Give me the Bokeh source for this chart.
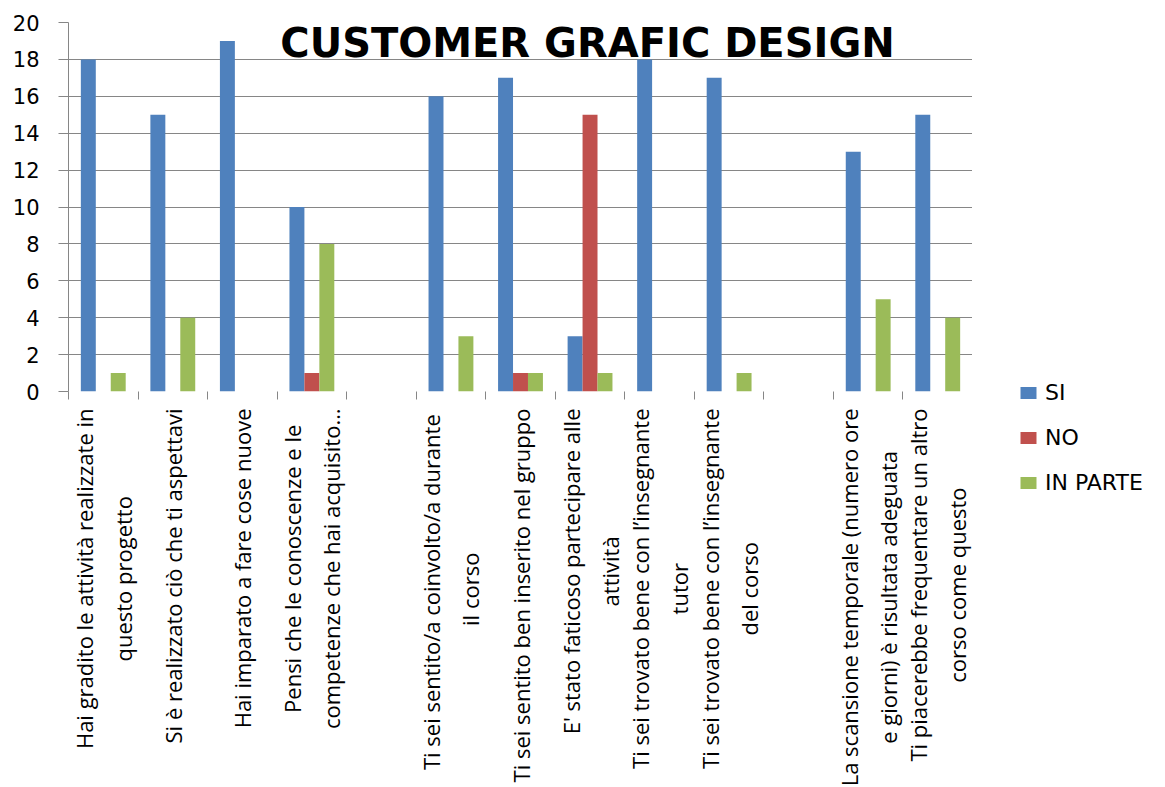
import numpy as np
from bokeh.plotting import figure
from bokeh.layouts import row, column
from bokeh.models import Range1d, FixedTicker, Label, Legend, LegendItem, ColumnDataSource
from bokeh.core.properties import value
from bokeh.embed import file_html
from bokeh.resources import INLINE

# ---- data ----
categories = [
    "Hai gradito le attività realizzate in\nquesto progetto",
    "Si è realizzato ciò che ti aspettavi",
    "Hai imparato a fare cose nuove",
    "Pensi che le conoscenze e le\ncompetenze che hai acquisito…",
    "",
    "Ti sei  sentito/a coinvolto/a durante\nil corso",
    "Ti sei sentito ben inserito nel gruppo",
    "E' stato faticoso partecipare alle\nattività",
    "Ti sei trovato bene con l’insegnante\ntutor",
    "Ti sei trovato bene con l’insegnante\ndel corso",
    "",
    "La scansione temporale (numero ore\ne giorni) è risultata adeguata",
    "Ti piacerebbe frequentare un altro\ncorso come questo",
]
si = [18, 15, 19, 10, 0, 16, 17, 3, 18, 17, 0, 13, 15]
no = [0, 0, 0, 1, 0, 0, 1, 15, 0, 0, 0, 0, 0]
in_parte = [1, 4, 0, 8, 0, 3, 1, 1, 0, 1, 0, 5, 4]
series_names = ["SI", "NO", "IN PARTE"]
series_colors = ["#4F81BD", "#C0504D", "#9BBB59"]
y_ticks = list(range(0, 21, 2))
title_text = "CUSTOMER GRAFIC DESIGN"

n = len(categories)
centers = [i + 0.5 for i in range(n)]
bounds = list(range(n + 1))
bar_w = 0.215
offsets = [-bar_w, 0.0, bar_w]
grid_col = "#868686"

W_MAIN, H_MAIN = 972, 404
W_LEG, H_TOT = 188, 787
H_LAB = H_TOT - H_MAIN

# ---- main chart ----
p = figure(width=W_MAIN, height=H_MAIN, x_range=Range1d(0, n), y_range=Range1d(0, 20),
           output_backend="svg", toolbar_location=None,
           min_border_left=68, min_border_right=0, min_border_top=22, min_border_bottom=13)
p.outline_line_color = None
p.xgrid.visible = False
p.ygrid.ticker = FixedTicker(ticks=[t for t in y_ticks if t > 0])
p.ygrid.grid_line_color = grid_col

ya = p.yaxis[0]
ya.ticker = FixedTicker(ticks=y_ticks)
ya.major_tick_out = 10
ya.major_tick_in = 0
ya.minor_tick_out = 0
ya.minor_tick_in = 0
ya.major_tick_line_color = grid_col
ya.axis_line_color = grid_col
ya.major_label_text_font = "DejaVu Sans"
ya.major_label_text_font_size = "21px"
ya.major_label_text_color = "black"
ya.major_label_standoff = 19

xa = p.xaxis[0]
xa.ticker = FixedTicker(ticks=centers, minor_ticks=bounds)
xa.major_label_overrides = {c: "" for c in centers}
xa.major_label_text_font_size = "0px"
xa.major_label_standoff = 0
xa.major_tick_out = 0
xa.major_tick_in = 0
xa.minor_tick_out = 8
xa.minor_tick_in = 0
xa.minor_tick_line_color = grid_col
xa.axis_line_color = None

renderers = []
for vals, off, col in zip([si, no, in_parte], offsets, series_colors):
    src = ColumnDataSource(dict(x=[c + off for c in centers], top=vals))
    r = p.vbar(x="x", top="top", width=bar_w, source=src, fill_color=col, line_color=None)
    renderers.append(r)

title = Label(x=519, y=348.5, x_units="screen", y_units="screen", text=title_text,
              text_font="DejaVu Sans", text_font_style="bold", text_font_size="40px",
              text_align="center", text_baseline="middle", text_color="black")
p.add_layout(title)

# ---- category labels (below the axis) ----
lab = figure(width=W_MAIN, height=H_LAB, x_range=p.x_range, y_range=Range1d(0, H_LAB),
             output_backend="svg", toolbar_location=None,
             x_axis_location=None, y_axis_location=None,
             min_border_left=68, min_border_right=0, min_border_top=0, min_border_bottom=0)
lab.outline_line_color = None
lab.xgrid.grid_line_color = None
lab.ygrid.grid_line_color = None
lab_src = ColumnDataSource(dict(x=centers, text=categories))
lab.text(x="x", y=H_LAB - 4, text="text", source=lab_src, angle=np.pi / 2,
         anchor="center_right", text_align="center", text_baseline="middle",
         text_font=value("Open Sans"), text_font_size="22px", text_color="black",
         text_line_height=1.3)

# ---- legend panel ----
leg = figure(width=W_LEG, height=H_TOT, x_range=Range1d(0, 1), y_range=Range1d(0, 1),
             output_backend="svg", toolbar_location=None,
             x_axis_location=None, y_axis_location=None,
             min_border_left=0, min_border_right=0, min_border_top=0, min_border_bottom=0)
leg.outline_line_color = None
leg.xgrid.grid_line_color = None
leg.ygrid.grid_line_color = None
leg.background_fill_color = "white"
leg.border_fill_color = "white"
leg_renderers = [leg.vbar(x=[5], top=[1], width=0.1, fill_color=c, line_color=None)
                 for c in series_colors]
legend = Legend(items=[LegendItem(label=nm, renderers=[r]) for nm, r in zip(series_names, leg_renderers)],
                location=(46, 292), orientation="vertical",
                glyph_width=20, glyph_height=15, label_height=15, spacing=20,
                label_standoff=7, padding=0, margin=0,
                border_line_color=None, background_fill_alpha=0,
                label_text_font="DejaVu Sans", label_text_font_size="22px", label_text_color="black")
leg.add_layout(legend)

layout = row(column(p, lab, spacing=0), leg, spacing=0)
open("out.html", "w").write(file_html(layout, INLINE))
